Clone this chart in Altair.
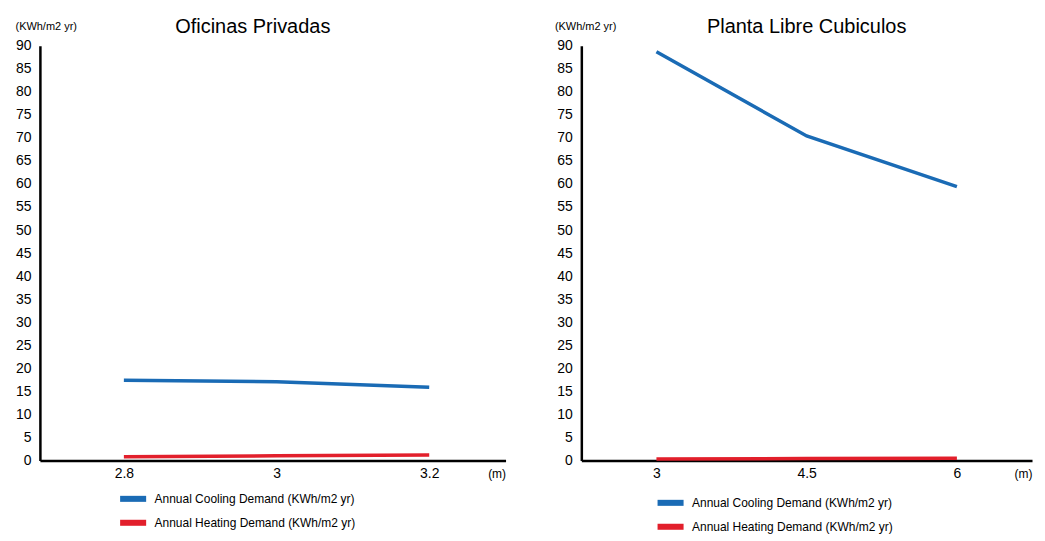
import altair as alt
import pandas as pd

series_names = ["Annual Cooling Demand (KWh/m2 yr)", "Annual Heating Demand (KWh/m2 yr)"]
colors = ["#1a6bb5", "#e21f2b"]

left_x = [2.8, 3.0, 3.2]
left_cooling = [17.4, 17.1, 15.9]
left_heating = [0.8, 1.0, 1.2]

right_x = [3.0, 4.5, 6.0]
right_cooling = [88.7, 70.4, 59.4]
right_heating = [0.3, 0.4, 0.5]

y_ticks = list(range(0, 95, 5))
FONT = "Liberation Sans"


def make_df(xs, cool, heat):
    rows = []
    for x, v in zip(xs, cool):
        rows.append({"x": x, "v": v, "s": series_names[0]})
    for x, v in zip(xs, heat):
        rows.append({"x": x, "v": v, "s": series_names[1]})
    return pd.DataFrame(rows)


def panel(xs, cool, heat, title, domain, width, height, title_dx, leg_x, leg_y, row_pad, ytitle_x):
    df = make_df(xs, cool, heat)
    return alt.Chart(df, title=alt.Title(title, fontSize=20, font=FONT, fontWeight="normal",
                                         offset=-16, dx=title_dx, color="black")).mark_line(
        interpolate="linear", strokeCap="butt", strokeWidth=3.5
    ).encode(
        x=alt.X("x:Q", scale=alt.Scale(domain=domain, nice=False, zero=False),
                axis=alt.Axis(values=xs, format=".1~f", title="(m)", titleAngle=0,
                              titleX=width, titleY=13, titleAlign="right", titleBaseline="middle",
                              titleFontSize=12, titleFontWeight="normal", titleFont=FONT,
                              labelFontSize=14, labelFont=FONT, labelColor="black",
                              labelPadding=6, tickSize=0, grid=False,
                              domainColor="black", domainWidth=2.5)),
        y=alt.Y("v:Q", scale=alt.Scale(domain=[0, 90], nice=False),
                axis=alt.Axis(values=y_ticks, title="(KWh/m2 yr)", titleAngle=0,
                              titleX=ytitle_x, titleY=-19, titleAlign="left", titleBaseline="middle",
                              titleFontSize=11, titleFontWeight="normal", titleFont=FONT,
                              labelFontSize=14, labelFont=FONT, labelColor="black",
                              labelPadding=9, tickSize=0, grid=False,
                              domainColor="black", domainWidth=2.5)),
        color=alt.Color("s:N", scale=alt.Scale(domain=series_names, range=colors),
                        legend=alt.Legend(title=None, orient="none", legendX=leg_x, legendY=leg_y,
                                          symbolType="M-1.3,-0.12H1.3V0.12H-1.3Z", symbolSize=289,
                                          symbolStrokeWidth=4,
                                          labelFontSize=12, labelFont=FONT, labelColor="black",
                                          labelLimit=400,
                                          labelOffset=11, rowPadding=row_pad, padding=0)),
    ).properties(width=width, height=height)


left = panel(left_x, left_cooling, left_heating, "Oficinas Privadas", [2.69, 3.3], 467, 416,
             -20, 83, 444, 4, -25)
right = panel(right_x, right_cooling, right_heating, "Planta Libre Cubiculos", [2.25, 6.75], 452, 416,
              0, 79, 448, 4, -27)

chart = alt.hconcat(left, right, spacing=49).resolve_scale(
    color="independent"
).resolve_legend(color="independent").properties(
    padding={"left": 7, "top": 8, "right": 5, "bottom": 5},
    background="white",
).configure_view(stroke="transparent", strokeWidth=0)

chart.save("out.html", embed_options={"renderer": "svg", "actions": False})
